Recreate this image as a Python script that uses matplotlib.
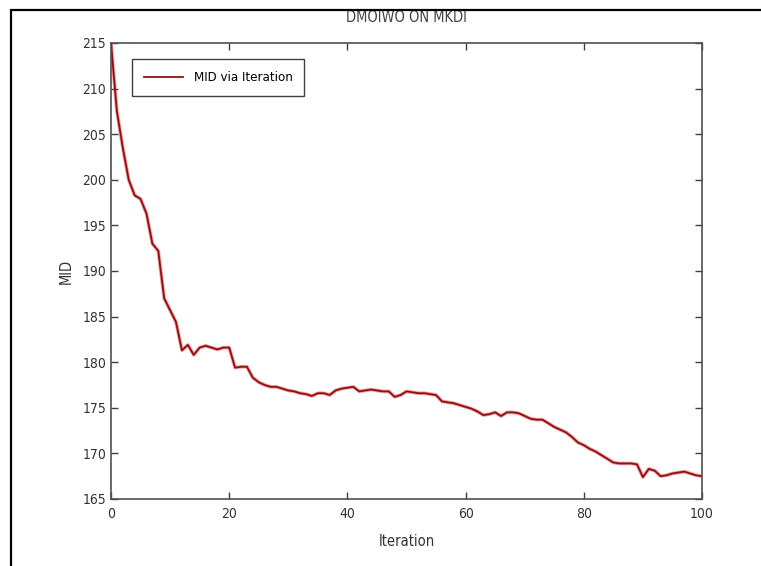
import matplotlib
matplotlib.use('Agg')
import matplotlib.pyplot as plt
from matplotlib.patches import Rectangle

# --- data ---
iteration = list(range(0, 101))
mid = [
    215.0, 207.5, 203.5, 200.0, 198.3, 197.9, 196.3, 193.0, 192.2, 187.0,
    185.7, 184.4, 181.3, 181.9, 180.8, 181.6, 181.8, 181.6, 181.4, 181.6,
    181.6, 179.4, 179.5, 179.5, 178.3, 177.8, 177.5, 177.3, 177.3, 177.1,
    176.9, 176.8, 176.6, 176.5, 176.3, 176.6, 176.6, 176.4, 176.9, 177.1,
    177.2, 177.3, 176.8, 176.9, 177.0, 176.9, 176.8, 176.8, 176.2, 176.4,
    176.8, 176.7, 176.6, 176.6, 176.5, 176.4, 175.7, 175.6, 175.5, 175.3,
    175.1, 174.9, 174.6, 174.2, 174.3, 174.5, 174.1, 174.5, 174.5, 174.4,
    174.1, 173.8, 173.7, 173.7, 173.3, 172.9, 172.6, 172.3, 171.8, 171.2,
    170.9, 170.5, 170.2, 169.8, 169.4, 169.0, 168.9, 168.9, 168.9, 168.8,
    167.4, 168.3, 168.1, 167.5, 167.6, 167.8, 167.9, 168.0, 167.8, 167.6,
    167.5,
]
x_ticks = [0, 20, 40, 60, 80, 100]
y_ticks = [165, 170, 175, 180, 185, 190, 195, 200, 205, 210, 215]

plt.rcParams['font.family'] = ['DejaVu Sans']
plt.rcParams['font.stretch'] = 'condensed'

fig = plt.figure(figsize=(7.61, 5.66), dpi=100)
# outer frame of the screenshot
fig.patches.append(Rectangle((11 / 761, -0.05), 1.0, 1 - 9.5 / 566 + 0.05,
                             transform=fig.transFigure, fill=False,
                             edgecolor='black', linewidth=1.6))

ax = fig.add_axes([111 / 761, 1 - 499 / 566, 591 / 761, 456 / 566])
ax.plot(iteration, mid, color='#e83a3a', linewidth=2.6, alpha=0.5)
ax.plot(iteration, mid, color='#8e0f14', linewidth=1.3, label='MID via Iteration')

ax.set_xlim(0, 100)
ax.set_ylim(165, 215)
ax.set_xticks(x_ticks)
ax.set_yticks(y_ticks)
ax.tick_params(direction='in', length=5, width=1, colors='#404040',
               labelcolor='#333333', labelsize=10, top=True, right=True)
ax.tick_params(axis='x', pad=6)
for s in ax.spines.values():
    s.set_color('#505050')
    s.set_linewidth(1.2)

ax.set_xlabel('Iteration', fontsize=10.5, color='#333333', labelpad=9)
ax.set_ylabel('MID', fontsize=10.5, color='#333333', labelpad=6)
ax.set_title('DMOIWO ON MKDI', fontsize=10.5, color='#444444', pad=15)

leg = ax.legend(loc='upper left', bbox_to_anchor=(0.035, 0.964), fontsize=9.5,
                fancybox=False, framealpha=1, edgecolor='#404040',
                handlelength=3.0, borderpad=0.9, borderaxespad=0)
leg.get_frame().set_linewidth(1.0)

fig.savefig('out.png', dpi=100)
